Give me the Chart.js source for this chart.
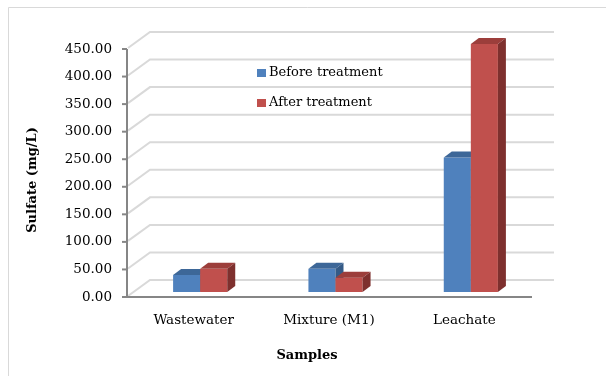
<!DOCTYPE html>
<html>
<head>
<meta charset="utf-8">
<script src="https://cdn.jsdelivr.net/npm/chart.js@4.4.1/dist/chart.umd.min.js"></script>
<style>
  html, body { margin: 0; padding: 0; background: #fff; }
  #sulfateChart { display: block; }
</style>
</head>
<body>
<canvas id="sulfateChart" width="606" height="376"></canvas>
<script>
const samples = ['Wastewater', 'Mixture (M1)', 'Leachate'];
const beforeTreatment = [31, 42, 244];
const afterTreatment = [42, 26, 450];
const yTicks = [0, 50, 100, 150, 200, 250, 300, 350, 400, 450];

const FONT = 'DejaVu Serif';
const depth = { dx: 8, dy: -6 };      // depth of each bar
const wall = { dx: 23, dy: -17 };     // depth of the back wall
const shift = { dx: 6.5, dy: -5 };    // bars stand in the middle of the floor

const faceColors = {
  '#4F81BD': { top: '#3D6798', side: '#345A86' },
  '#C0504D': { top: '#9C3E3B', side: '#7E302E' },
};

function drawBox(ctx, bar, front, faces) {
  const { x, y, base, width } = bar.getProps(['x', 'y', 'base', 'width'], true);
  const l = x - width / 2;
  const r = x + width / 2;
  ctx.fillStyle = front;
  ctx.fillRect(l, y, width, base - y);
  // top face
  ctx.fillStyle = faces.top;
  ctx.beginPath();
  ctx.moveTo(l, y);
  ctx.lineTo(l + depth.dx, y + depth.dy);
  ctx.lineTo(r + depth.dx, y + depth.dy);
  ctx.lineTo(r, y);
  ctx.closePath();
  ctx.fill();
  // side face
  ctx.fillStyle = faces.side;
  ctx.beginPath();
  ctx.moveTo(r, y);
  ctx.lineTo(r + depth.dx, y + depth.dy);
  ctx.lineTo(r + depth.dx, base + depth.dy);
  ctx.lineTo(r, base);
  ctx.closePath();
  ctx.fill();
}

const scene3d = {
  id: 'scene3d',
  beforeDraw(chart) {
    const { ctx, chartArea } = chart;
    const y = chart.scales.y;
    ctx.save();
    ctx.fillStyle = '#fff';
    ctx.fillRect(0, 0, chart.width, chart.height);

    // outer frame
    ctx.strokeStyle = '#D9D9D9';
    ctx.lineWidth = 1;
    ctx.beginPath();
    ctx.moveTo(8.5, chart.height);
    ctx.lineTo(8.5, 7.5);
    ctx.lineTo(chart.width, 7.5);
    ctx.stroke();

    // back wall + side wall gridlines
    const axisX = chartArea.left + 1;
    ctx.strokeStyle = '#D9D9D9';
    ctx.lineWidth = 2;
    yTicks.forEach((v) => {
      const py = y.getPixelForValue(v);
      ctx.beginPath();
      ctx.moveTo(axisX + 1, py - 1);
      ctx.lineTo(axisX + wall.dx, py + wall.dy);
      ctx.lineTo(554, py + wall.dy);
      ctx.stroke();
    });

    // axes
    ctx.strokeStyle = '#868686';
    ctx.lineWidth = 2;
    ctx.beginPath();
    ctx.moveTo(axisX, y.getPixelForValue(450));
    ctx.lineTo(axisX, chartArea.bottom);
    ctx.lineTo(chartArea.right, chartArea.bottom);
    ctx.stroke();
    yTicks.forEach((v) => {
      const py = y.getPixelForValue(v);
      ctx.beginPath();
      ctx.moveTo(axisX - 5, py);
      ctx.lineTo(axisX, py);
      ctx.stroke();
    });
    ctx.restore();
  },
  // skip the flat bars, the boxes are drawn below in series order
  beforeDatasetDraw() {
    return false;
  },
  afterDatasetsDraw(chart) {
    const { ctx } = chart;
    ctx.save();
    ctx.translate(shift.dx, shift.dy);
    chart.data.datasets.forEach((ds, i) => {
      const meta = chart.getDatasetMeta(i);
      meta.data.forEach((bar) => {
        drawBox(ctx, bar, ds.backgroundColor, faceColors[ds.backgroundColor]);
      });
    });
    ctx.restore();
  },
  afterDraw(chart) {
    const { ctx } = chart;
    ctx.save();
    // legend inside the plot
    ctx.font = `13px "${FONT}"`;
    ctx.textBaseline = 'middle';
    ctx.textAlign = 'left';
    chart.data.datasets.forEach((ds, i) => {
      const cy = 73 + i * 30;
      ctx.fillStyle = ds.backgroundColor;
      ctx.fillRect(257, cy - 4, 9, 8);
      ctx.fillStyle = '#000';
      ctx.fillText(ds.label, 269, cy);
    });

    // axis titles
    ctx.font = `bold 13px "${FONT}"`;
    ctx.textAlign = 'center';
    ctx.fillText('Samples', 307, 356);
    ctx.translate(33, 180);
    ctx.rotate(-Math.PI / 2);
    ctx.fillText('Sulfate (mg/L)', 0, 0);
    ctx.restore();
  },
};

const ctx = document.getElementById('sulfateChart').getContext('2d');
const chart = new Chart(ctx, {
  type: 'bar',
  data: {
    labels: samples,
    datasets: [
      {
        label: 'Before treatment',
        data: beforeTreatment,
        backgroundColor: '#4F81BD',
      },
      {
        label: 'After treatment',
        data: afterTreatment,
        backgroundColor: '#C0504D',
      },
    ],
  },
  options: {
    responsive: false,
    devicePixelRatio: 1,
    animation: false,
    layout: {
      padding: { left: 0, top: 49, right: 74, bottom: 0 },
    },
    datasets: {
      bar: {
        categoryPercentage: 0.4,
        barPercentage: 1,
        borderWidth: 0,
      },
    },
    plugins: {
      legend: { display: false },
      tooltip: { enabled: false },
    },
    scales: {
      x: {
        grid: { display: false, drawTicks: false },
        border: { display: false },
        ticks: {
          color: '#000',
          padding: 15,
          font: { family: FONT, size: 13.5 },
        },
        afterFit: (scale) => {
          scale.height = 79;
        },
      },
      y: {
        min: 0,
        max: 450,
        grid: { display: false, drawTicks: false },
        border: { display: false },
        ticks: {
          stepSize: 50,
          autoSkip: false,
          color: '#000',
          padding: 14,
          font: { family: FONT, size: 13.5 },
          callback: (v) => Number(v).toFixed(2),
        },
        afterFit: (scale) => {
          scale.width = 126;
        },
      },
    },
  },
  plugins: [scene3d],
});
</script>
</body>
</html>
